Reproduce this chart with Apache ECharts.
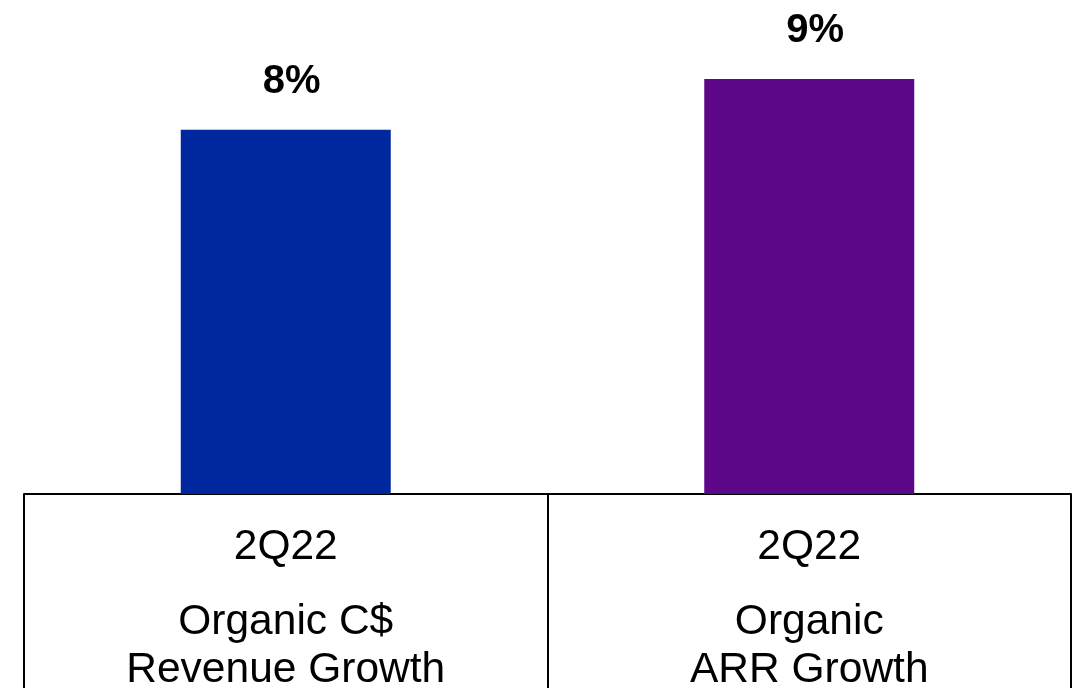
<!DOCTYPE html>
<html>
<head>
<meta charset="utf-8">
<script src="https://cdn.jsdelivr.net/npm/echarts@6/dist/echarts.min.js"></script>
<style>
html,body{margin:0;padding:0;background:#fff;}
#chart{width:1076px;height:688px;}
</style>
</head>
<body>
<div id="chart"></div>
<script>
const periods = ['2Q22', '2Q22'];
const metrics = [['Organic C$', 'Revenue Growth'], ['Organic', 'ARR Growth']];
const values = [7.9, 9.0];
const colors = ['#00289E', '#5B0787'];

const chart = echarts.init(document.getElementById('chart'));
const FONT = 'Arial, "Liberation Sans", sans-serif';
chart.setOption({
  animation: false,
  grid: { left: 24, right: 5, top: 33, bottom: 194, containLabel: false, outerBoundsMode: 'none' },
  xAxis: {
    type: 'category',
    data: periods.map((p, i) => i),
    axisLine: { show: true, lineStyle: { color: '#000', width: 2 } },
    axisTick: { show: true, interval: 0, length: 200, lineStyle: { color: '#000', width: 2 } },
    axisLabel: {
      interval: 0,
      margin: 2,
      verticalAlign: 'top',
      formatter: function (v, idx) {
        return '{a|' + periods[idx] + '}\n' + metrics[idx].map(s => '{b|' + s + '}').join('\n');
      },
      rich: {
        a: { fontFamily: FONT, fontSize: 42.5, color: '#000', lineHeight: 102 },
        b: { fontFamily: FONT, fontSize: 42.5, color: '#000', lineHeight: 48 }
      }
    }
  },
  yAxis: { type: 'value', min: 0, max: 10, show: false, splitLine: { show: false } },
  series: [{
    type: 'bar',
    barWidth: 210,
    data: values.map((v, i) => ({ value: v, itemStyle: { color: colors[i] } })),
    label: {
      show: true,
      position: 'top',
      distance: 28,
      offset: [6, 0],
      fontFamily: FONT,
      fontSize: 40,
      fontWeight: 'bold',
      color: '#000',
      formatter: p => Math.round(p.value) + '%'
    }
  }]
});
</script>
</body>
</html>
